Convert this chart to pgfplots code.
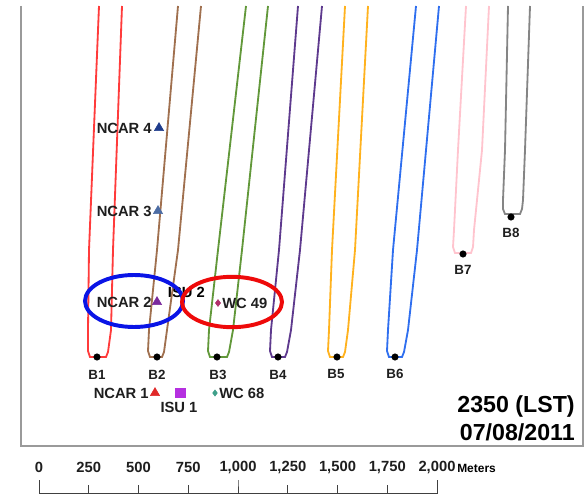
\documentclass[border=0pt]{standalone}
\usepackage{pgfplots}
\pgfplotsset{compat=1.18}
\usepackage{fontspec}
\setmainfont{Liberation Sans}
\definecolor{cB1}{HTML}{FF3B3B}
\definecolor{cB2}{HTML}{A0704F}
\definecolor{cB3}{HTML}{62983A}
\definecolor{cB4}{HTML}{5E3A8E}
\definecolor{cB5}{HTML}{FFB21E}
\definecolor{cB6}{HTML}{2F6FEF}
\definecolor{cB7}{HTML}{FFC4CE}
\definecolor{cB8}{HTML}{858585}
\definecolor{frame}{HTML}{9A9A9A}
\definecolor{txt}{HTML}{1E1E1E}
\definecolor{ncarA}{HTML}{1F3C8C}
\definecolor{ncarB}{HTML}{4C6CA4}
\definecolor{ncarC}{HTML}{7A2A9E}
\definecolor{ncarD}{HTML}{E02828}
\definecolor{isu}{HTML}{B530E0}
\definecolor{wcA}{HTML}{B0306A}
\definecolor{wcB}{HTML}{3FA08A}
\definecolor{ellB}{HTML}{0A14E6}
\definecolor{ellR}{HTML}{EE0A0A}
\begin{document}
\begin{tikzpicture}
\begin{axis}[
  width=14.7cm, height=12.425cm, scale only axis,
  xmin=0, xmax=588, ymin=0, ymax=497, y dir=reverse,
  hide axis, clip=false,
  every node/.style={text=txt},
]
% keep the full canvas in the bounding box
\path (rel axis cs:0,0) rectangle (rel axis cs:1,1);
% frame
\addplot[draw=frame, line width=1.4pt] coordinates {(21,6) (21,446) (583,446) (583,6)};

% labels behind curves
\node[anchor=west, font=\bfseries\fontsize{10.5}{12}\selectfont] at (axis cs:163,292) {ISU 2};

% plumes
\addplot[cB1, line width=1.3pt] coordinates {(99,6) (89,250) (88,330) (88,351) (90,357) (106,357) (108,352) (111,330) (113,250) (122,6)};
\addplot[cB2, line width=1.3pt] coordinates {(178,6) (157,250) (149,330) (148,351) (150,357) (162,357) (164,352) (167,330) (178,250) (201,6)};
\addplot[cB3, line width=1.3pt] coordinates {(246,6) (218,250) (209,330) (208,351) (210,357) (227,357) (229,352) (233,330) (242,250) (268,6)};
\addplot[cB4, line width=1.3pt] coordinates {(298,6) (279,250) (271,330) (270,351) (272,357) (285,357) (287,352) (291,330) (300,250) (322,6)};
\addplot[cB5, line width=1.3pt] coordinates {(345,6) (332,250) (329,330) (328,351) (330,357) (343,357) (345,352) (348,330) (355,250) (368,6)};
\addplot[cB6, line width=1.3pt] coordinates {(416,6) (393,250) (388,330) (387,351) (389,357) (402,357) (404,352) (408,330) (417,250) (439,6)};
\addplot[cB7, line width=1.3pt] coordinates {(466,6) (458,150) (454,230) (453,247) (455,253) (471,253) (473,247) (474,230) (482,150) (489,6)};
\addplot[cB8, line width=1.3pt] coordinates {(508,6) (505,150) (503,200) (503,209) (505,214) (520,214) (522,209) (523,200) (525,150) (530,6)};

% source points
\addplot[only marks, mark=*, mark size=2.3pt, black] coordinates {(97,357) (157,357) (217,357) (278,357) (337,357) (395,357) (463,254) (511,217)};

% B labels
\begin{scope}[every node/.style={font=\bfseries\fontsize{9.5}{11}\selectfont, text=txt}]
\node at (axis cs:97,375) {B1};
\node at (axis cs:157,375) {B2};
\node at (axis cs:218,375) {B3};
\node at (axis cs:278,375) {B4};
\node at (axis cs:336,374) {B5};
\node at (axis cs:395,374) {B6};
\node at (axis cs:463,270) {B7};
\node at (axis cs:511,233) {B8};
\end{scope}

% instruments
\addplot[only marks, mark=triangle*, mark size=3.8pt, color=ncarA] coordinates {(159,128)};
\addplot[only marks, mark=triangle*, mark size=3.8pt, color=ncarB] coordinates {(158,211)};
\addplot[only marks, mark=triangle*, mark size=3.8pt, color=ncarC] coordinates {(157,302)};
\addplot[only marks, mark=triangle*, mark size=3.8pt, color=ncarD] coordinates {(155,393)};
\addplot[only marks, mark=square*, mark size=3.4pt, color=isu] coordinates {(180,393)};
\addplot[only marks, mark=diamond*, mark size=2.4pt, color=wcA] coordinates {(218,303)};
\addplot[only marks, mark=diamond*, mark size=2.2pt, color=wcB] coordinates {(215,393)};

\begin{scope}[every node/.style={font=\bfseries\fontsize{10.5}{12}\selectfont, text=txt}]
\node[anchor=east, inner sep=0pt] at (axis cs:152,128) {NCAR 4};
\node[anchor=east, inner sep=0pt] at (axis cs:152,211) {NCAR 3};
\node[anchor=east, inner sep=0pt] at (axis cs:152,302) {NCAR 2};
\node[anchor=east, inner sep=0pt] at (axis cs:149,393) {NCAR 1};
\node[anchor=west, inner sep=0pt] at (axis cs:222,303) {WC 49};
\node[anchor=west, inner sep=0pt] at (axis cs:219,393) {WC 68};
\node[inner sep=0pt] at (axis cs:179,407) {ISU 1};
\end{scope}

% highlight ellipses
\draw[ellB, line width=2.8pt] (axis cs:134,301) ellipse [x radius=1.225cm, y radius=0.65cm];
\draw[ellR, line width=2.8pt] (axis cs:232,302) ellipse [x radius=1.25cm, y radius=0.63cm];

% time stamp
\node[anchor=east, inner sep=0pt, font=\bfseries\fontsize{16.5}{18}\selectfont] at (axis cs:575,407) {2350 (LST)};
\node[anchor=east, inner sep=0pt, font=\bfseries\fontsize{16.5}{18}\selectfont] at (axis cs:575,432) {07/08/2011};

% scale bar
\addplot[draw=black!75, line width=0.7pt] coordinates {(39,480) (39,493) (88.75,493) (88.75,485) (88.75,493) (138.5,493) (138.5,485) (138.5,493) (188.25,493) (188.25,485) (188.25,493) (238,493) (238,480) (238,493) (287.75,493) (287.75,485) (287.75,493) (337.5,493) (337.5,485) (337.5,493) (387.25,493) (387.25,485) (387.25,493) (437,493) (437,480)};
\begin{scope}[every node/.style={font=\bfseries\fontsize{10.5}{12}\selectfont, text=txt}]
\node at (axis cs:39,467) {0};
\node at (axis cs:88.75,467) {250};
\node at (axis cs:138.5,467) {500};
\node at (axis cs:188.25,467) {750};
\node at (axis cs:238,467) {1,000};
\node at (axis cs:287.75,467) {1,250};
\node at (axis cs:337.5,467) {1,500};
\node at (axis cs:387.25,467) {1,750};
\node at (axis cs:437,467) {2,000};
\end{scope}
\node[anchor=west, inner sep=0pt, font=\bfseries\fontsize{8.5}{10}\selectfont] at (axis cs:457,468) {Meters};
\end{axis}
\end{tikzpicture}
\end{document}
